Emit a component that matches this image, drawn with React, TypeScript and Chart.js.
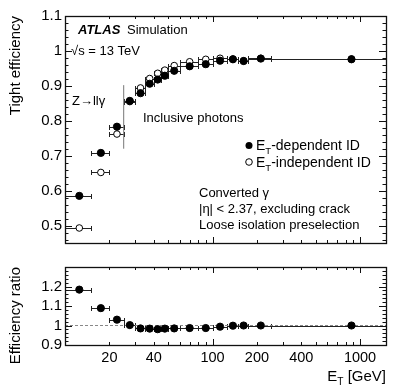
import React, { useEffect, useRef } from "react";
import { Chart, registerables } from "chart.js";

Chart.register(...registerables);

// ---- Data ----
const binLow = [10, 15, 20, 25, 30, 35, 40, 45, 50, 60, 80, 100, 125, 150, 175, 250];
const binHigh = [15, 20, 25, 30, 35, 40, 45, 50, 60, 80, 100, 125, 150, 175, 250, 1500];
const etCenters = [12.5, 17.5, 22.5, 27.5, 32.5, 37.5, 42.5, 47.5, 55, 70, 90, 112.5, 137.5, 162.5, 212.5, 875];
const effEtDependent = [0.585, 0.708, 0.783, 0.857, 0.879, 0.906, 0.918, 0.929, 0.943, 0.956, 0.962, 0.972, 0.976, 0.971, 0.978, 0.976];
const effEtIndependent = [0.493, 0.652, 0.762, 0.855, 0.894, 0.921, 0.936, 0.945, 0.958, 0.969, 0.976, 0.979, 0.977, 0.972, 0.979, 0.977];
const effRatio = [1.184, 1.089, 1.03, 1.002, 0.985, 0.984, 0.981, 0.984, 0.985, 0.987, 0.987, 0.994, 0.999, 1.0, 1.0, 1.0];
const xTickLabels = [20, 40, 100, 200, 400, 1000];
const yTicksTop = [0.5, 0.6, 0.7, 0.8, 0.9, 1.0, 1.1];
const yTicksBottom = [0.9, 1.0, 1.1, 1.2];
const zllgBoundaryEt = 25;
const zllgBoundaryEff = [0.72, 0.902];

const X_MIN = 10;
const X_MAX = 1500;
const FONT = '"Liberation Sans", Arial, Helvetica, sans-serif';

Chart.defaults.font.family = FONT;
Chart.defaults.color = "#000";

function fmt(v: number) {
  return String(+Number(v).toFixed(2));
}

function frameTicksPlugin(majorStep: number, minorStep: number, majorLen: number, minorLen: number) {
  return {
    id: "frameTicks",
    afterDatasetsDraw(chart: any) {
      const { ctx, chartArea: a, scales } = chart;
      const xs = scales.x;
      const ys = scales.y;
      ctx.save();
      ctx.strokeStyle = "#111";
      ctx.lineWidth = 1;
      ctx.beginPath();
      for (let d = 10; d <= 1000; d *= 10) {
        for (let m = 1; m <= 9; m++) {
          const v = m * d;
          if (v < X_MIN || v > X_MAX) continue;
          const px = Math.round(xs.getPixelForValue(v)) + 0.5;
          const len = m === 1 ? 6 : 3;
          ctx.moveTo(px, a.bottom);
          ctx.lineTo(px, a.bottom - len);
          ctx.moveTo(px, a.top);
          ctx.lineTo(px, a.top + len);
        }
      }
      const start = Math.ceil(ys.min / minorStep - 1e-6);
      const end = Math.floor(ys.max / minorStep + 1e-6);
      for (let i = start; i <= end; i++) {
        const v = i * minorStep;
        const r = v / majorStep;
        const major = Math.abs(r - Math.round(r)) < 1e-6;
        const len = major ? majorLen : minorLen;
        const py = Math.round(ys.getPixelForValue(v)) + 0.5;
        ctx.moveTo(a.left, py);
        ctx.lineTo(a.left + len, py);
        ctx.moveTo(a.right, py);
        ctx.lineTo(a.right - len, py);
      }
      ctx.stroke();
      ctx.lineWidth = 1.3;
      ctx.strokeRect(a.left + 0.5, a.top + 0.5, a.right - a.left, a.bottom - a.top);
      ctx.restore();
    },
  };
}

function errorBarPlugin(series: number[][]) {
  return {
    id: "errorBars",
    beforeDatasetsDraw(chart: any) {
      const { ctx, scales } = chart;
      const xs = scales.x;
      const ys = scales.y;
      ctx.save();
      ctx.strokeStyle = "#222";
      ctx.lineWidth = 1;
      ctx.beginPath();
      series.forEach((vals) => {
        vals.forEach((v, i) => {
          const y = Math.round(ys.getPixelForValue(v)) + 0.5;
          const x1 = Math.round(xs.getPixelForValue(binLow[i])) + 0.5;
          const x2 = Math.round(xs.getPixelForValue(binHigh[i])) + 0.5;
          ctx.moveTo(x1, y);
          ctx.lineTo(x2, y);
          ctx.moveTo(x1, y - 2.5);
          ctx.lineTo(x1, y + 2.5);
          ctx.moveTo(x2, y - 2.5);
          ctx.lineTo(x2, y + 2.5);
        });
      });
      ctx.stroke();
      ctx.restore();
    },
  };
}

function drawParts(ctx: any, x: number, y: number, size: number, parts: [string, boolean][]) {
  let cx = x;
  parts.forEach(([t, sub]) => {
    if (sub) {
      ctx.font = `${size * 0.68}px ${FONT}`;
      ctx.fillText(t, cx, y + size * 0.25);
    } else {
      ctx.font = `${size}px ${FONT}`;
      ctx.fillText(t, cx, y);
    }
    cx += ctx.measureText(t).width;
  });
  return cx;
}

function measureParts(ctx: any, size: number, parts: [string, boolean][]) {
  let w = 0;
  parts.forEach(([t, sub]) => {
    ctx.font = `${sub ? size * 0.68 : size}px ${FONT}`;
    w += ctx.measureText(t).width;
  });
  return w;
}

const topTextPlugin = {
  id: "topText",
  afterDraw(chart: any) {
    const { ctx } = chart;
    ctx.save();
    ctx.fillStyle = "#000";
    ctx.textAlign = "left";
    ctx.textBaseline = "alphabetic";
    ctx.font = `bold italic 13px ${FONT}`;
    ctx.fillText("ATLAS", 78, 34);
    ctx.font = `13px ${FONT}`;
    ctx.fillText("Simulation", 127, 34);
    ctx.fillText("\u221As = 13 TeV", 71, 55);
    ctx.fillText("Z\u2192ll\u03B3", 72, 105);
    ctx.fillText("Inclusive photons", 143, 122);
    ctx.fillText("Converted \u03B3", 199, 197);
    ctx.fillText("|\u03B7| < 2.37, excluding crack", 199, 213);
    ctx.fillText("Loose isolation preselection", 199, 228.5);

    // legend
    ctx.beginPath();
    ctx.arc(249, 145.5, 3.5, 0, Math.PI * 2);
    ctx.fill();
    ctx.beginPath();
    ctx.arc(249, 162, 3.3, 0, Math.PI * 2);
    ctx.fillStyle = "#fff";
    ctx.fill();
    ctx.strokeStyle = "#000";
    ctx.lineWidth = 1;
    ctx.stroke();
    ctx.fillStyle = "#000";
    drawParts(ctx, 256, 150, 14, [["E", false], ["T", true], ["-dependent ID", false]]);
    drawParts(ctx, 256, 167, 14, [["E", false], ["T", true], ["-independent ID", false]]);
    ctx.restore();
  },
};

const bottomTextPlugin = {
  id: "bottomText",
  afterDraw(chart: any) {
    const { ctx, chartArea } = chart;
    ctx.save();
    ctx.fillStyle = "#000";
    ctx.textAlign = "left";
    ctx.textBaseline = "alphabetic";
    const parts: [string, boolean][] = [["E", false], ["T", true], [" [GeV]", false]];
    const w = measureParts(ctx, 15, parts);
    drawParts(ctx, chartArea.right - w, 126, 15, parts);
    ctx.restore();
  },
};

function points(vals: number[]) {
  return etCenters.map((x, i) => ({ x, y: vals[i] }));
}

export default function App() {
  const topRef = useRef<HTMLCanvasElement | null>(null);
  const botRef = useRef<HTMLCanvasElement | null>(null);

  useEffect(() => {
    const top = new Chart(topRef.current as HTMLCanvasElement, {
      type: "scatter",
      data: {
        datasets: [
          {
            label: "ET-dependent ID",
            data: points(effEtDependent),
            pointRadius: 3.6,
            pointBackgroundColor: "#000",
            pointBorderColor: "#000",
            pointBorderWidth: 1,
          },
          {
            label: "ET-independent ID",
            data: points(effEtIndependent),
            pointRadius: 3.3,
            pointBackgroundColor: "#fff",
            pointBorderColor: "#000",
            pointBorderWidth: 1,
          },
          {
            label: "Zllg boundary",
            data: zllgBoundaryEff.map((y) => ({ x: zllgBoundaryEt, y })),
            showLine: true,
            pointRadius: 0,
            borderColor: "#777",
            borderWidth: 1,
          },
        ],
      } as any,
      options: {
        animation: false,
        responsive: false,
        events: [],
        layout: { padding: { left: 0, right: 21, top: 16, bottom: 4 } },
        plugins: { legend: { display: false }, tooltip: { enabled: false } },
        scales: {
          x: { type: "logarithmic", min: X_MIN, max: X_MAX, display: false },
          y: {
            type: "linear",
            min: 0.45,
            max: 1.1,
            position: "left",
            grid: { display: false, drawTicks: false },
            border: { display: false },
            afterBuildTicks: (s: any) => {
              s.ticks = yTicksTop.map((v) => ({ value: v }));
            },
            afterFit: (s: any) => {
              s.width = 65;
            },
            ticks: {
              padding: 3,
              color: "#000",
              font: { size: 15, family: FONT },
              callback: (v: any) => fmt(v),
            },
            title: {
              display: true,
              text: "Tight efficiency",
              align: "end",
              color: "#000",
              font: { size: 15, family: FONT },
              padding: { top: 7, bottom: 0 },
            },
          },
        },
      } as any,
      plugins: [errorBarPlugin([effEtIndependent, effEtDependent]), frameTicksPlugin(0.1, 0.02, 7, 3.5), topTextPlugin],
    });

    const bot = new Chart(botRef.current as HTMLCanvasElement, {
      type: "scatter",
      data: {
        datasets: [
          {
            label: "Efficiency ratio",
            data: points(effRatio),
            pointRadius: 3.6,
            pointBackgroundColor: "#000",
            pointBorderColor: "#000",
            pointBorderWidth: 1,
          },
          {
            label: "unity",
            data: [
              { x: X_MIN, y: 1 },
              { x: X_MAX, y: 1 },
            ],
            showLine: true,
            pointRadius: 0,
            borderColor: "#888",
            borderWidth: 1,
            borderDash: [3, 2],
          },
        ],
      } as any,
      options: {
        animation: false,
        responsive: false,
        events: [],
        layout: { padding: { left: 0, right: 21, top: 3, bottom: 0 } },
        plugins: { legend: { display: false }, tooltip: { enabled: false } },
        scales: {
          x: {
            type: "logarithmic",
            min: X_MIN,
            max: X_MAX,
            position: "bottom",
            grid: { display: false, drawTicks: false },
            border: { display: false },
            afterBuildTicks: (s: any) => {
              s.ticks = xTickLabels.map((v) => ({ value: v }));
            },
            afterFit: (s: any) => {
              s.height = 43;
            },
            ticks: {
              padding: 4,
              autoSkip: false,
              maxRotation: 0,
              color: "#000",
              font: { size: 14.5, family: FONT },
              callback: (v: any) => String(v),
            },
          },
          y: {
            type: "linear",
            min: 0.9,
            max: 1.3,
            position: "left",
            grid: { display: false, drawTicks: false },
            border: { display: false },
            afterBuildTicks: (s: any) => {
              s.ticks = yTicksBottom.map((v) => ({ value: v }));
            },
            afterFit: (s: any) => {
              s.width = 65;
            },
            ticks: {
              padding: 3,
              color: "#000",
              font: { size: 15, family: FONT },
              callback: (v: any) => fmt(v),
            },
            title: {
              display: true,
              text: "Efficiency ratio",
              align: "end",
              color: "#000",
              font: { size: 15, family: FONT },
              padding: { top: 7, bottom: 0 },
            },
          },
        },
      } as any,
      plugins: [errorBarPlugin([effRatio]), frameTicksPlugin(0.1, 0.02, 7, 3.5), bottomTextPlugin],
    });

    return () => {
      top.destroy();
      bot.destroy();
    };
  }, []);

  return (
    <div style={{ position: "absolute", left: 0, top: 0, width: 407, height: 388, background: "#fff" }}>
      <canvas ref={topRef} width={407} height={255} style={{ position: "absolute", left: 0, top: 0 }} />
      <canvas ref={botRef} width={407} height={133} style={{ position: "absolute", left: 0, top: 255 }} />
    </div>
  );
}
